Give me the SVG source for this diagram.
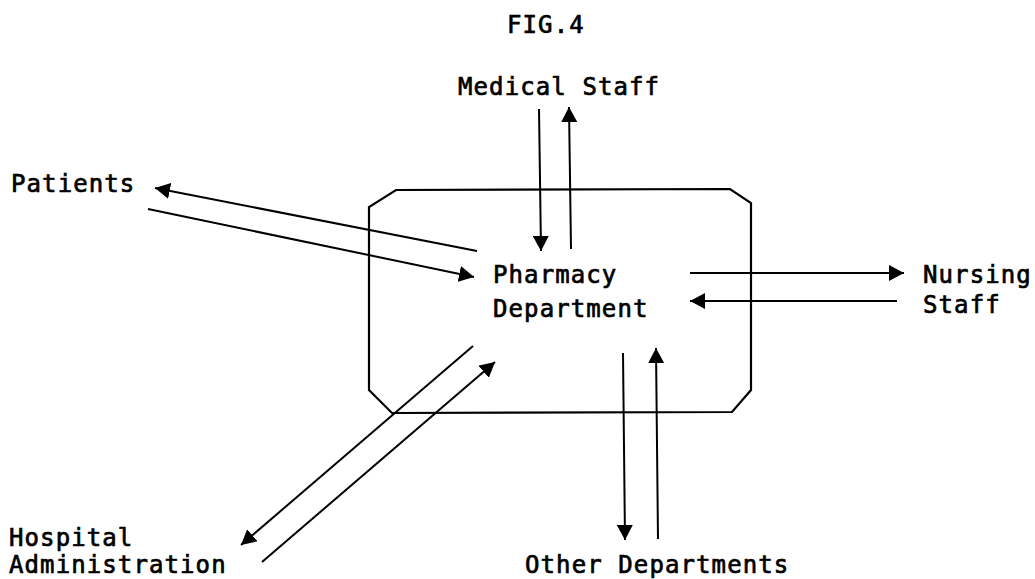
<svg xmlns="http://www.w3.org/2000/svg" width="1035" height="579" viewBox="0 0 1035 579">
  <style>
    .lbl { font-family: "DejaVu Sans Mono", "Liberation Mono", monospace; font-size: 24px; letter-spacing: 1.1px; fill: #000; stroke: #000; stroke-width: 0.7px; }
    .edge { fill: none; stroke: #000; stroke-width: 2; marker-end: url(#head); }
    .box { fill: none; stroke: #000; stroke-width: 2.2; stroke-linejoin: miter; }
  </style>
  <defs>
    <marker id="head" viewBox="0 0 15 16" markerWidth="15" markerHeight="16" markerUnits="userSpaceOnUse" refX="15" refY="8" orient="auto">
      <path d="M0,0 L15,8 L0,16 Z" fill="#000"/>
    </marker>
  </defs>
  <rect width="1035" height="579" fill="#fff"/>

  <text class="lbl" x="507" y="33">FIG.4</text>

  <g id="pharmacy">
    <path class="box" d="M396,190 L730,189 L751,203 L751,390 L732,412 L392,413 L369,390 L369,207 Z"/>
    <text class="lbl" x="493" y="283">Pharmacy</text>
    <text class="lbl" x="493" y="317">Department</text>
  </g>
  <g id="medical-staff">
    <text class="lbl" x="458" y="95">Medical Staff</text>
  </g>
  <g id="patients">
    <text class="lbl" x="11" y="192">Patients</text>
  </g>
  <g id="nursing-staff">
    <text class="lbl" x="923" y="283">Nursing</text>
    <text class="lbl" x="923" y="313">Staff</text>
  </g>
  <g id="hospital-administration">
    <text class="lbl" x="9" y="546">Hospital</text>
    <text class="lbl" x="9" y="573">Administration</text>
  </g>
  <g id="other-departments">
    <text class="lbl" x="525" y="573">Other Departments</text>
  </g>

  <g id="connectors">
    <!-- Medical Staff -->
    <line class="edge" x1="539" y1="109" x2="541" y2="251"/>
    <line class="edge" x1="571" y1="249" x2="569" y2="107"/>
    <!-- Patients -->
    <line class="edge" x1="477" y1="251" x2="155" y2="188"/>
    <line class="edge" x1="148" y1="209" x2="474" y2="277"/>
    <!-- Nursing Staff -->
    <line class="edge" x1="690" y1="273" x2="904" y2="273"/>
    <line class="edge" x1="897" y1="301" x2="690" y2="301"/>
    <!-- Other Departments -->
    <line class="edge" x1="623" y1="353" x2="625" y2="540"/>
    <line class="edge" x1="658" y1="539" x2="656" y2="348"/>
    <!-- Hospital Administration -->
    <line class="edge" x1="473" y1="346" x2="241" y2="545"/>
    <line class="edge" x1="262" y1="562" x2="495" y2="362"/>
  </g>
</svg>
